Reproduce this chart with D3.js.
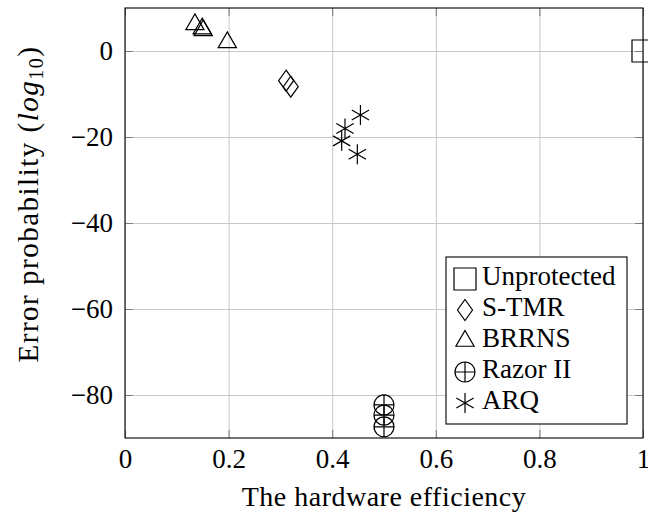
<!DOCTYPE html>
<html>
<head>
<meta charset="utf-8">
<script src="https://cdn.jsdelivr.net/npm/d3@7"></script>
<style>
  html, body { margin: 0; padding: 0; background: #fff; overflow: hidden; }
  svg { display: block; font-family: "Liberation Serif", "Times New Roman", serif; }
</style>
</head>
<body>
<svg id="chart" width="648" height="513"></svg>
<script>
// data, [efficiency, log10 error probability]
const unprotected = [[1.0, 0]];
const sTmr = [[0.311, -6.9], [0.32, -8.3]];
const brrns = [[0.135, 6.2], [0.149, 5.2], [0.151, 4.8], [0.1975, 2.0]];
const razorII = [[0.5, -82.3], [0.5, -84.7], [0.5, -87.4]];
const arq = [[0.4545, -14.9], [0.4247, -18], [0.4183, -20.9], [0.4485, -24]];

const seriesNames = ["Unprotected", "S-TMR", "BRRNS", "Razor II", "ARQ"];
const seriesMarks = ["square", "diamond", "triangle", "oplus", "asterisk"];
const seriesData = [unprotected, sTmr, brrns, razorII, arq];

const xTicks = [0, 0.2, 0.4, 0.6, 0.8, 1];
const yTicks = [0, -20, -40, -60, -80];
const xDomain = [0, 1];
const yDomain = [-90, 10];

const box = { left: 125, right: 643, top: 8, bottom: 438 };
const fontSize = 27;

const svg = d3.select("#chart");

const x = d3.scaleLinear().domain(xDomain).range([box.left, box.right]);
const y = d3.scaleLinear().domain(yDomain).range([box.bottom, box.top]);
const plotW = box.right - box.left;
const plotH = box.bottom - box.top;

// marker shapes, roughly the pgfplots ones
function markPath(type) {
  const p = d3.path();
  if (type === "square") {
    p.rect(-11, -11, 22, 22);
  } else if (type === "diamond") {
    p.moveTo(0, -10.5); p.lineTo(7.5, 0); p.lineTo(0, 10.5); p.lineTo(-7.5, 0); p.closePath();
  } else if (type === "triangle") {
    const r = 10.5;
    p.moveTo(0, -r); p.lineTo(r * 0.866, r * 0.5); p.lineTo(-r * 0.866, r * 0.5); p.closePath();
  } else if (type === "oplus") {
    const r = 10;
    p.moveTo(r, 0); p.arc(0, 0, r, 0, 2 * Math.PI);
    p.moveTo(-r, 0); p.lineTo(r, 0);
    p.moveTo(0, -r); p.lineTo(0, r);
  } else if (type === "asterisk") {
    const r = 10;
    for (let a = 90; a < 270; a += 60) {
      const t = a * Math.PI / 180;
      p.moveTo(r * Math.cos(t), -r * Math.sin(t));
      p.lineTo(-r * Math.cos(t), r * Math.sin(t));
    }
  }
  return p.toString();
}

// grid
svg.append("g")
  .attr("transform", `translate(0,${box.bottom})`)
  .call(d3.axisBottom(x).tickValues(xTicks).tickSize(-plotH).tickFormat(""))
  .call(g => g.select(".domain").remove())
  .call(g => g.selectAll("line").attr("stroke", "#c8c8c8"));

svg.append("g")
  .attr("transform", `translate(${box.left},0)`)
  .call(d3.axisLeft(y).tickValues(yTicks).tickSize(-plotW).tickFormat(""))
  .call(g => g.select(".domain").remove())
  .call(g => g.selectAll("line").attr("stroke", "#c8c8c8"));

// small inner ticks on all four sides
const tickLen = 8;
[
  [d3.axisBottom(x).tickValues(xTicks), `translate(0,${box.bottom})`],
  [d3.axisTop(x).tickValues(xTicks), `translate(0,${box.top})`],
  [d3.axisLeft(y).tickValues(yTicks), `translate(${box.left},0)`],
  [d3.axisRight(y).tickValues(yTicks), `translate(${box.right},0)`]
].forEach(([ax, tr]) => {
  svg.append("g")
    .attr("transform", tr)
    .call(ax.tickSize(-tickLen).tickFormat(""))
    .call(g => g.select(".domain").remove())
    .call(g => g.selectAll("line").attr("stroke", "#7a7a7a"));
});

// tick labels
svg.append("g")
  .attr("transform", `translate(0,${box.bottom})`)
  .call(d3.axisBottom(x).tickValues(xTicks).tickSize(0).tickPadding(11).tickFormat(d => String(d)))
  .call(g => g.select(".domain").remove())
  .call(g => g.selectAll("text")
    .attr("font-family", "Liberation Serif")
    .attr("font-size", fontSize)
    .attr("fill", "#000"));

svg.append("g")
  .attr("transform", `translate(${box.left},0)`)
  .call(d3.axisLeft(y).tickValues(yTicks).tickSize(0).tickPadding(12)
    .tickFormat(d => d < 0 ? "\u2212" + Math.abs(d) : String(d)))
  .call(g => g.select(".domain").remove())
  .call(g => g.selectAll("text")
    .attr("font-family", "Liberation Serif")
    .attr("font-size", fontSize)
    .attr("fill", "#000"));

// axis frame
svg.append("rect")
  .attr("x", box.left).attr("y", box.top)
  .attr("width", plotW).attr("height", plotH)
  .attr("fill", "none").attr("stroke", "#000").attr("stroke-width", 1.1);

// marks
seriesData.forEach((pts, i) => {
  svg.append("g").selectAll("path")
    .data(pts)
    .enter()
    .append("path")
    .attr("transform", d => `translate(${x(d[0])},${y(d[1])})`)
    .attr("d", markPath(seriesMarks[i]))
    .attr("fill", "none")
    .attr("stroke", "#000")
    .attr("stroke-width", 1.2);
});

// legend
const legend = svg.append("g");
legend.append("rect")
  .attr("x", 446).attr("y", 257)
  .attr("width", 181).attr("height", 167)
  .attr("fill", "#fff").attr("stroke", "#000").attr("stroke-width", 1.1);

const rowY = d3.scalePoint().domain(seriesNames).range([279, 403]);
const rows = legend.selectAll("g.row")
  .data(seriesNames)
  .enter()
  .append("g")
  .attr("class", "row")
  .attr("transform", d => `translate(0,${rowY(d)})`);

rows.append("path")
  .attr("transform", "translate(465,0)")
  .attr("d", (d, i) => markPath(seriesMarks[i]))
  .attr("fill", "none")
  .attr("stroke", "#000")
  .attr("stroke-width", 1.2);

rows.append("text")
  .attr("x", 482)
  .attr("y", 6)
  .attr("font-size", fontSize)
  .text(d => d);

// axis labels
svg.append("text")
  .attr("x", (box.left + box.right) / 2)
  .attr("y", 506)
  .attr("text-anchor", "middle")
  .attr("font-size", 28)
  .attr("letter-spacing", 0.5)
  .text("The hardware efficiency");

const yLabel = svg.append("text")
  .attr("transform", "translate(38,204) rotate(-90)")
  .attr("text-anchor", "middle")
  .attr("font-size", 29)
  .attr("letter-spacing", 1.5);
yLabel.append("tspan").text("Error probability (");
yLabel.append("tspan").attr("font-style", "italic").text("log");
yLabel.append("tspan").attr("font-size", 20).attr("dy", 5).text("10");
yLabel.append("tspan").attr("dy", -5).text(")");
</script>
</body>
</html>
